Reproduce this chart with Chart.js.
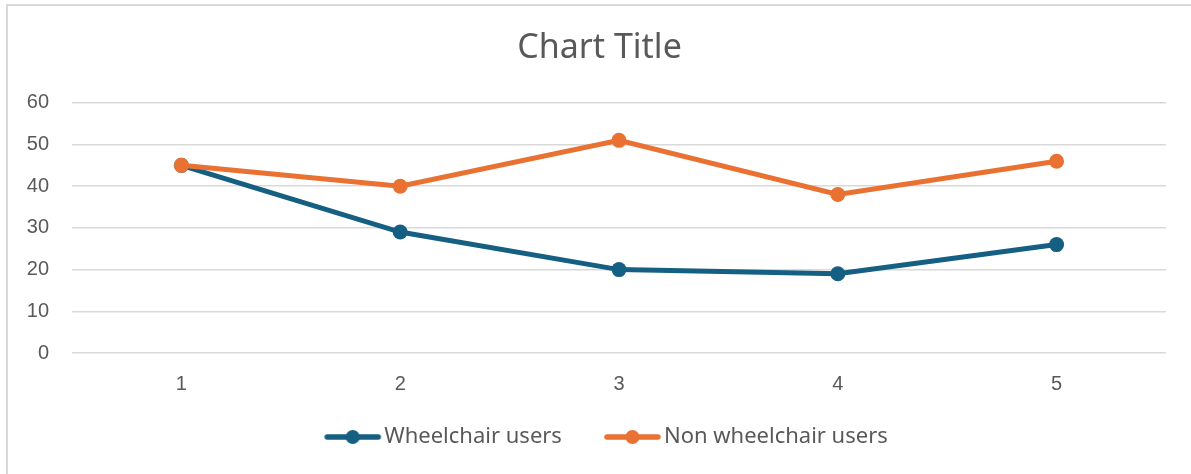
<!DOCTYPE html>
<html>
<head>
<meta charset="utf-8">
<script src="https://cdn.jsdelivr.net/npm/chart.js@4"></script>
<style>
html,body{margin:0;padding:0;background:#fff;overflow:hidden}
#wrap{position:relative;width:1191px;height:474px}
#frame{position:absolute;left:6px;top:4px;width:1300px;height:600px;border-left:2px solid #d9d9d9;border-top:2px solid #d9d9d9;pointer-events:none}
</style>
</head>
<body>
<div id="wrap">
<canvas id="chart" width="1191" height="474"></canvas>
<div id="frame"></div>
</div>
<script>
const categories = ['1', '2', '3', '4', '5'];
const wheelchair = [45, 29, 20, 19, 26];
const nonWheelchair = [45, 40, 51, 38, 46];
const seriesNames = ['Wheelchair users', 'Non wheelchair users'];
const blue = '#156082';
const orange = '#e97132';

// legend swatch: line with a dot, placed at the right of a wider canvas
// (blank left part = extra gap between items, right end almost touches the text)
function legendMark(color){
  const c = document.createElement('canvas');
  c.width = 82; c.height = 16;
  const g = c.getContext('2d');
  g.strokeStyle = color; g.lineWidth = 5.5; g.lineCap = 'round';
  g.beginPath(); g.moveTo(26, 8); g.lineTo(77, 8); g.stroke();
  g.fillStyle = color;
  g.beginPath(); g.arc(51.5, 8, 7, 0, Math.PI*2); g.fill();
  return c;
}
const marks = [legendMark(blue), legendMark(orange)];

const tickFont = {family: '"Liberation Sans", Arial, sans-serif', size: 20};

const ctx = document.getElementById('chart');
const chart = new Chart(ctx, {
  type: 'line',
  data: {
    labels: categories,
    datasets: [{
      label: seriesNames[0],
      data: wheelchair,
      borderColor: blue,
      backgroundColor: blue,
      borderWidth: 5,
      pointRadius: 7.5,
      pointBorderWidth: 0,
      order: 1
    },{
      label: seriesNames[1],
      data: nonWheelchair,
      borderColor: orange,
      backgroundColor: orange,
      borderWidth: 5,
      pointRadius: 7.5,
      pointBorderWidth: 0,
      order: 0
    }]
  },
  options: {
    responsive: false,
    animation: false,
    layout: {padding: {left: 8, right: 0, top: 0, bottom: 16}},
    plugins: {
      title: {
        display: true,
        text: 'Chart Title',
        color: '#595959',
        font: {family: '"Noto Sans", sans-serif', size: 34, weight: 'normal'},
        padding: {top: 28, bottom: 34}
      },
      legend: {
        position: 'bottom',
        labels: {
          usePointStyle: true,
          pointStyleWidth: 62,
          padding: 29,
          color: '#595959',
          font: {family: '"Noto Sans", sans-serif', size: 22},
          sort: (a, b) => a.datasetIndex - b.datasetIndex,
          generateLabels: function(chart){
            const items = Chart.defaults.plugins.legend.labels.generateLabels(chart);
            items.forEach(it => { it.pointStyle = marks[it.datasetIndex]; });
            return items;
          }
        }
      },
      tooltip: {enabled: false}
    },
    scales: {
      x: {
        offset: true,
        afterFit: function(s){ s.height = 44; },
        grid: {display: false, drawTicks: false},
        border: {display: false},
        ticks: {color: '#595959', padding: 19, font: tickFont}
      },
      y: {
        min: 0,
        max: 60,
        afterFit: function(s){ s.width = 64; },
        border: {display: false},
        grid: {color: '#d9d9d9', lineWidth: 1.5, drawTicks: false},
        ticks: {stepSize: 10, color: '#595959', padding: 23, font: tickFont}
      },
      yRight: {
        position: 'right',
        afterFit: function(s){ s.width = 25; },
        grid: {display: false, drawTicks: false},
        border: {display: false},
        ticks: {display: false}
      }
    }
  }
});
</script>
</body>
</html>
